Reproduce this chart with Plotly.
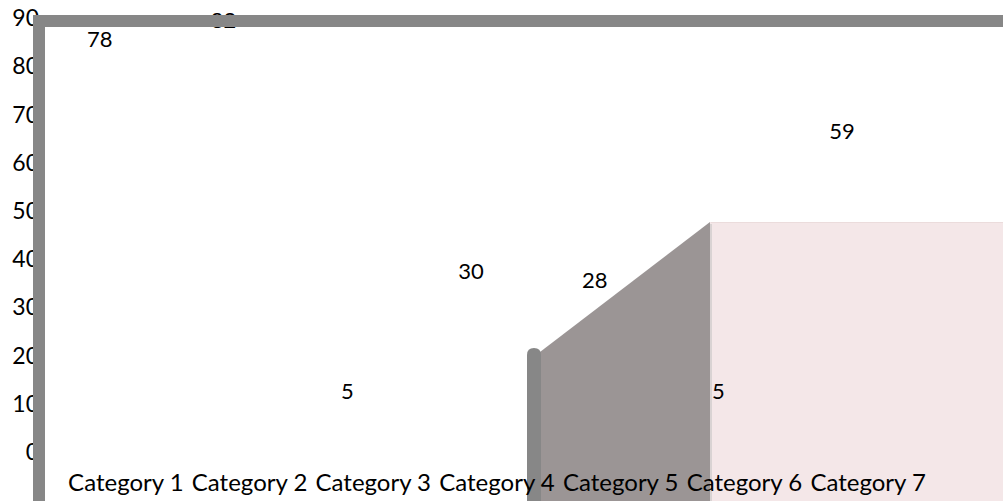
import plotly.graph_objects as go

categories = ["Category 1", "Category 2", "Category 3", "Category 4",
              "Category 5", "Category 6", "Category 7"]
values = [78, 82, 5, 30, 28, 5, 59]
y_ticks = [0, 10, 20, 30, 40, 50, 60, 70, 80, 90]

W, H = 1003, 501
L, R, T, B = 64, 73, 18, 49
PW, PH = W - L - R, H - T - B
FONT = "Lato"
FS_LABEL = 22
FS_TICK = 23
FS_CAT = 24

def px(x):
    return (x - L) / PW

def py(y):
    return (H - B - y) / PH

def path(points, closed=True):
    s = "M " + " L ".join(f"{px(x):.5f},{py(y):.5f}" for x, y in points)
    return s + (" Z" if closed else "")

fig = go.Figure()
fig.add_trace(go.Scatter(x=categories, y=values, mode="markers",
                         marker=dict(opacity=0), hoverinfo="skip",
                         showlegend=False, xaxis="x", yaxis="y"))
fig.add_trace(go.Scatter(x=categories, y=values, mode="text",
                         text=[str(v) for v in values],
                         textposition="middle center",
                         textfont=dict(family=FONT, size=FS_LABEL, color="#000000"),
                         cliponaxis=False, showlegend=False,
                         xaxis="x2", yaxis="y2"))

dx = 26 / (PW / 7)
dy = 34 / (PH / 90)

shapes = []
shapes.append(dict(type="rect", xref="paper", yref="paper",
                   x0=px(710), x1=px(1003), y0=py(222), y1=py(501),
                   fillcolor="#f4e7e8", line=dict(width=0), layer="below"))
shapes.append(dict(type="line", xref="paper", yref="paper",
                   x0=px(711), x1=px(1003), y0=py(222.5), y1=py(222.5),
                   line=dict(color="#ebdcdc", width=1), layer="below"))
shapes.append(dict(type="path", xref="paper", yref="paper",
                   path=path([(540, 352), (710, 222), (710, 501), (540, 501)]),
                   fillcolor="#9b9595", line=dict(width=0), layer="below"))
shapes.append(dict(type="line", xref="paper", yref="paper",
                   x0=px(711), x1=px(711), y0=py(224), y1=py(501),
                   line=dict(color="#d9d3d3", width=2), layer="below"))
edge = (f"M {px(527):.5f},{py(501):.5f} L {px(527):.5f},{py(355):.5f} "
        f"Q {px(527):.5f},{py(348):.5f} {px(534):.5f},{py(348):.5f} "
        f"Q {px(541):.5f},{py(348):.5f} {px(541):.5f},{py(355):.5f} "
        f"L {px(541):.5f},{py(501):.5f} Z")
shapes.append(dict(type="path", xref="paper", yref="paper", path=edge,
                   fillcolor="#878787", line=dict(width=0), layer="below"))
shapes.append(dict(type="rect", xref="paper", yref="paper",
                   x0=px(33), x1=px(45), y0=py(15), y1=py(501),
                   fillcolor="#878787", line=dict(width=0), layer="above"))
shapes.append(dict(type="rect", xref="paper", yref="paper",
                   x0=px(33), x1=px(1003), y0=py(15), y1=py(27),
                   fillcolor="#878787", line=dict(width=0), layer="above"))

fig.update_layout(
    template="none",
    width=W, height=H,
    margin=dict(l=L, r=R, t=T, b=B, pad=0, autoexpand=False),
    paper_bgcolor="#ffffff", plot_bgcolor="#ffffff",
    showlegend=False,
    font=dict(family=FONT, size=FS_TICK, color="#000000"),
    xaxis=dict(type="category", categoryorder="array", categoryarray=categories,
               range=[-0.5, 6.5], showgrid=False, zeroline=False, showline=False,
               ticks="", automargin=False,
               tickfont=dict(family=FONT, size=FS_CAT, color="#000000"),
               ticklabelstandoff=14, fixedrange=True),
    yaxis=dict(range=[0, 90], tickvals=y_ticks, ticktext=[str(v) for v in y_ticks],
               showgrid=False, zeroline=False, showline=False, ticks="",
               automargin=False,
               tickfont=dict(family=FONT, size=FS_TICK, color="#000000"),
               ticklabelstandoff=24, fixedrange=True),
    xaxis2=dict(type="category", categoryorder="array", categoryarray=categories,
                overlaying="x", range=[-0.5 + dx, 6.5 + dx], visible=False,
                automargin=False),
    yaxis2=dict(overlaying="y", range=[-dy, 90 - dy], visible=False,
                automargin=False),
    shapes=shapes,
)

fig.write_html("out.html")
